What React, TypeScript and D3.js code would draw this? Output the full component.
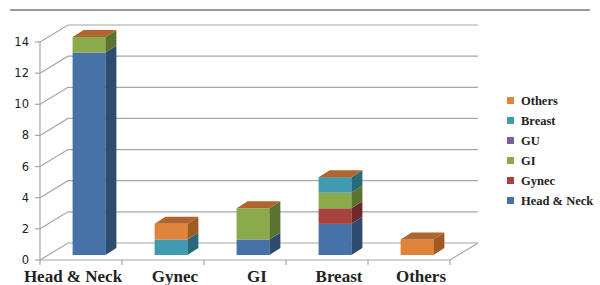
import { useEffect, useRef } from 'react';
import * as d3 from 'd3';

const categories = ['Head & Neck', 'Gynec', 'GI', 'Breast', 'Others'];
const seriesNames = ['Head & Neck', 'Gynec', 'GI', 'GU', 'Breast', 'Others'];
const headNeck = [13, 0, 1, 2, 0];
const gynec = [0, 0, 0, 1, 0];
const gi = [1, 0, 2, 1, 0];
const gu = [0, 0, 0, 0, 0];
const breast = [0, 1, 0, 1, 0];
const others = [0, 1, 0, 0, 1];
const yTicks = [0, 2, 4, 6, 8, 10, 12, 14];

const fronts = ['#4672A8', '#A8423F', '#8BAA4B', '#7B5C9E', '#3F9AB2', '#E0843C'];
const sides = ['#2E4B70', '#70292A', '#5B7230', '#524068', '#286A7A', '#A25A22'];
const topColor = '#B0652E';

export default function App() {
    const svgRef = useRef<SVGSVGElement>(null);

    useEffect(() => {
        if (!svgRef.current) return;
        const W = 600, H = 285;
        const svg = d3.select(svgRef.current);
        svg.selectAll('*').remove();
        svg.attr('width', W).attr('height', H);

        const values = [headNeck, gynec, gi, gu, breast, others];
        const rows = categories.map((c, i) => {
            const r: Record<string, any> = { cat: c };
            seriesNames.forEach((s, j) => { r[s] = values[j][i]; });
            return r;
        });
        const stacked = d3.stack<any>().keys(seriesNames)(rows);

        const x = d3.scaleBand().domain(categories).range([40, 450]).paddingInner(0.6).paddingOuter(0.3);
        const slot = d3.scaleBand().domain(categories).range([40, 450]);
        const y = d3.scaleLinear().domain([0, 14]).range([260, 42]);

        const wall = { dx: 28, dy: -17 };   // floor / side wall depth
        const off = { dx: 8, dy: -5 };      // bar front inset
        const dep = { dx: 11, dy: -7 };     // bar depth
        const grid = '#A6A6A6';

        // top separator line
        svg.append('line').attr('x1', 10).attr('x2', 590).attr('y1', 10).attr('y2', 10)
            .attr('stroke', '#9A9A9A').attr('stroke-width', 2);

        // back gridlines + side wall diagonals
        const gG = svg.append('g').attr('stroke', grid).attr('stroke-width', 1.2).attr('fill', 'none');
        yTicks.forEach(t => {
            const yy = y(t);
            gG.append('polyline')
                .attr('points', `40,${yy} ${40 + wall.dx},${yy + wall.dy} 478,${yy + wall.dy}`);
            gG.append('line').attr('x1', 35).attr('x2', 40).attr('y1', yy).attr('y2', yy);
        });
        // floor front & right edge
        gG.append('polyline').attr('points', `40,${y(0)} 450,${y(0)} 478,${y(0) + wall.dy}`);
        gG.append('line').attr('x1', 40).attr('x2', 40).attr('y1', y(14)).attr('y2', y(0));
        [...categories.map(c => slot(c)!), 450].forEach(px => {
            gG.append('line').attr('x1', px).attr('x2', px).attr('y1', y(0)).attr('y2', y(0) + 5);
        });

        // y tick labels
        svg.append('g').selectAll('text').data(yTicks).join('text')
            .attr('x', 29).attr('y', d => y(d) + 4)
            .attr('text-anchor', 'end')
            .attr('font-family', 'DejaVu Sans').attr('font-size', 11.5).attr('fill', '#222')
            .text(d => d);

        // bars
        const bars = svg.append('g');
        categories.forEach((c, i) => {
            const x0 = x(c)! + off.dx;
            const x1 = x0 + x.bandwidth();
            let topY = y(0) + off.dy;
            stacked.forEach((s, j) => {
                const [a, b] = s[i];
                if (b - a <= 0) return;
                const yb = y(a) + off.dy, yt = y(b) + off.dy;
                bars.append('rect').attr('x', x0).attr('y', yt).attr('width', x1 - x0).attr('height', yb - yt)
                    .attr('fill', fronts[j]);
                bars.append('polygon')
                    .attr('points', `${x1},${yb} ${x1},${yt} ${x1 + dep.dx},${yt + dep.dy} ${x1 + dep.dx},${yb + dep.dy}`)
                    .attr('fill', sides[j]);
                topY = yt;
            });
            bars.append('polygon')
                .attr('points', `${x0},${topY} ${x1},${topY} ${x1 + dep.dx},${topY + dep.dy} ${x0 + dep.dx},${topY + dep.dy}`)
                .attr('fill', topColor);
        });

        // category labels
        svg.append('g').selectAll('text').data(categories).join('text')
            .attr('x', d => x(d)! + off.dx + x.bandwidth() / 2 + (d === 'Head & Neck' ? -16 : 4))
            .attr('y', 282)
            .attr('text-anchor', 'middle')
            .attr('font-family', 'Liberation Serif').attr('font-weight', 'bold')
            .attr('font-size', 17).attr('fill', '#222')
            .text(d => d);

        // legend (reversed order)
        const leg = svg.append('g');
        const legItems = seriesNames.map((s, j) => ({ s, j })).reverse();
        legItems.forEach((d, k) => {
            const cy = 100.5 + k * 20;
            leg.append('rect').attr('x', 507).attr('y', cy - 3.5).attr('width', 7).attr('height', 7)
                .attr('fill', fronts[d.j]);
            leg.append('text').attr('x', 521).attr('y', cy + 4.5)
                .attr('font-family', 'Liberation Serif').attr('font-weight', 'bold')
                .attr('font-size', 12.5).attr('fill', '#222')
                .text(d.s);
        });
    }, []);

    return (
        <svg ref={svgRef} style={{ position: 'absolute', left: 0, top: 0, background: '#fff' }} />
    );
}
